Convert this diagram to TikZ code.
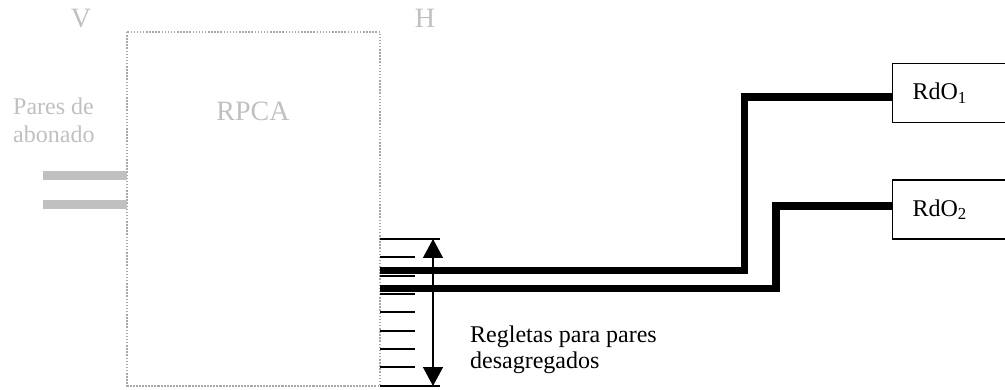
\documentclass[tikz,border=0pt]{standalone}
\usepackage{fontspec}
\setmainfont{Liberation Serif}
\usetikzlibrary{arrows.meta,calc}
\definecolor{lightgr}{HTML}{C0C0C0}
\definecolor{dotgr}{HTML}{A8A8A8}
\begin{document}
\begin{tikzpicture}[x=1pt,y=-1pt,
  graytxt/.style={text=lightgr,inner sep=0pt,font=\fontsize{24}{28}\selectfont},
  bigtxt/.style={text=lightgr,inner sep=0pt,font=\fontsize{28}{32}\selectfont},
  blacktxt/.style={inner sep=0pt,font=\fontsize{24}{27}\selectfont},
  rdobox/.style={draw,line width=1.2pt,rectangle,minimum width=130pt,minimum height=59pt,inner sep=0pt,font=\fontsize{24}{27}\selectfont,text width=110pt,align=left},
  cable/.style={line width=7.5pt,line join=miter},
  tick/.style={line width=1.4pt},
  bar/.style={line width=9pt,lightgr},
  frame/.style={dotgr,line width=1.5pt,dash pattern=on 1.5pt off 1.6pt}
]
\useasboundingbox (0,0) rectangle (1005,390);
% frame
\draw[frame] (127,32) rectangle (380,386);
\draw[frame] (127,386) -- (360,386);
% labels
\node[bigtxt,anchor=base] (v) at (81,28) {V};
\node[bigtxt,anchor=base] (h) at (425,28) {H};
\node[bigtxt,anchor=base] (rpca) at (253,121) {RPCA};
\node[graytxt,anchor=base west,align=left] (pares) at (13,143) {Pares de\\abonado};
% bars
\coordinate (b1) at (43,175.5);
\coordinate (b2) at (43,204.5);
\draw[bar] (b1) -- (127,175.5);
\draw[bar] (b2) -- (127,204.5);
% ticks
\foreach \yy/\len in {239/440,386/440,257/415,276/415,294/415,312/415,331/415,349/415,367/415}
  \draw[tick] (380,\yy) -- (\len,\yy);
% arrow
\coordinate (at) at (433,239);
\coordinate (ab) at (433,386);
\draw[line width=1.4pt,{Triangle[width=20pt,length=19pt]}-{Triangle[width=20pt,length=19pt]}] (at) -- (ab);
% boxes
\node[rdobox,anchor=north west] (rdo1) at (892,63) {\hspace*{10pt}RdO\textsubscript{1}};
\node[rdobox,anchor=north west] (rdo2) at (892,179.5) {\hspace*{10pt}RdO\textsubscript{2}};
% cables
\coordinate (c1) at (380,270.5);
\coordinate (c2) at (380,288.5);
\draw[cable] (c1) -- (744.5,270.5) -- (744.5,97) -- (rdo1.west |- 0,97);
\draw[cable] (c2) -- (776,288.5) -- (776,206) -- (rdo2.west |- 0,206);
% text
\node[blacktxt,anchor=base west,align=left] (reg) at (470,369) {Regletas para pares\\desagregados};
\end{tikzpicture}
\end{document}
